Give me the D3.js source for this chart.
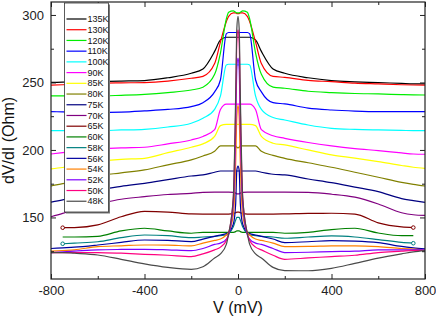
<!DOCTYPE html>
<html>
<head>
<meta charset="utf-8">
<script src="https://cdn.jsdelivr.net/npm/d3@7"></script>
<style>
    body { margin: 0; background: #fff; }
    svg { display: block; font-family: Arial, "Liberation Sans", sans-serif; }
</style>
</head>
<body>
<div id="chart"></div>
<script>
// bias voltage (mV), shared by every curve
var volts = [-800, -750, -700, -600, -500, -400, -300, -200, -150, -100, -75, -50, -40, -20, -10, -5, 0,
    5, 10, 20, 40, 50, 75, 100, 150, 200, 300, 400, 500, 600, 700, 750, 800];

// dV/dI (Ohm) for each temperature
var r135 = [250, 250.2, 250.4, 250.6, 251, 251.4, 253.5, 256.8, 260, 273, 281.5, 283.5, 283.5, 283.5, 283.5, 283.5, 283.5,
    283.5, 283.5, 283.5, 283.5, 283.5, 281.5, 273, 260, 256.8, 253.5, 251.4, 250.5, 249.9, 249.3, 249, 248.9];
var r130 = [248, 248.3, 248.7, 249.4, 249.7, 249.9, 251, 253.1, 254.5, 264, 280, 295, 299, 301.5, 301.5, 301, 301,
    301, 301.5, 301.5, 299, 295, 280, 264, 254.5, 253.8, 251.5, 250.6, 249.5, 248.9, 248.3, 248.1, 248];
var r120 = [240, 240, 240, 240, 240.5, 241.2, 242.5, 244.4, 246.5, 256, 272, 297, 302, 303, 302, 301.5, 301.5,
    301.5, 302, 303, 302, 297, 272, 256, 246.5, 245.7, 243.5, 242.5, 241.8, 241.5, 241, 240.8, 240.7];
var r110 = [228.4, 228.2, 228, 227.7, 228, 228.9, 230, 232.1, 235, 243, 252, 286, 287, 287, 287, 287, 287,
    287, 287, 287, 287, 286, 252, 243, 235, 234.1, 231, 229.6, 228.8, 228.4, 228.4, 228.4, 228.4];
var r100 = [214.3, 214.3, 214.3, 214.3, 214.8, 215.3, 217, 219.8, 223.5, 230, 240, 263, 263.5, 263.5, 263.5, 263, 263,
    263, 263.5, 263.5, 263.5, 263, 240, 230, 224, 222.2, 218.5, 216, 215.2, 214.8, 214.5, 214.3, 214.3];
var r90 = [197, 198, 199, 200.5, 201.5, 202, 204.5, 207.4, 210, 215, 230, 234, 234, 234, 234, 234, 234,
    234, 234, 234, 234, 234, 230, 215, 210.5, 208.6, 205.5, 203, 201, 199.5, 197.8, 197, 196.8];
var r85 = [186, 187, 188.5, 191.4, 193, 193.8, 198, 202, 204.5, 210, 218, 219, 219, 219, 219, 219, 219,
    219, 219, 219, 219, 219, 218, 210, 205, 203.7, 200, 196.3, 194, 191.4, 188.5, 187.2, 186.4];
var r80 = [173.3, 175, 176.5, 180.7, 183, 185.2, 189, 192.6, 195.5, 199, 203, 203, 203, 203, 203, 202, 201.5,
    202, 203, 203, 203, 203, 203, 199, 196, 193.8, 190.5, 187.2, 183.5, 179.8, 176, 174.5, 173.3];
var r75 = [161.3, 163, 165, 170, 173, 175.3, 178, 180.7, 181.5, 183.5, 184.4, 184.4, 184.4, 184.4, 184.4, 184.4, 184.4,
    184.4, 184.4, 184.4, 184.4, 184.4, 184.4, 183.5, 182, 181.5, 178.5, 175.8, 172.5, 169.1, 164, 162.5, 161.1];
var r70 = [150.5, 153, 156, 160, 163.5, 165.4, 167, 167.9, 168.5, 168.7, 168.7, 168.7, 168.7, 168.5, 168, 167.5, 167.5,
    167.5, 168, 168.5, 168.7, 168.7, 168.7, 168.7, 168.7, 168.7, 168.5, 167.2, 165, 160, 153.5, 152, 151.5];
var r65 = [null, 142.4, 142.5, 144.5, 150.5, 154.5, 154, 152.6, 152.5, 152.5, 152.5, 152.5, 152.5, 153, 153.5, 154, 154,
    154, 153.5, 153, 152.5, 152.5, 152.5, 152.5, 152.5, 152.6, 153, 153.1, 152.5, 146, 143, 142.5, null];
var r60 = [null, 135.5, 135.5, 136, 140, 142, 140, 138.3, 139, 139, 139, 139, 139, 139, 139.5, 140, 140,
    140, 139.5, 139, 139, 139, 139, 139, 139, 138.3, 139, 141, 142, 138.5, 136.5, 136.5, null];
var r58 = [null, 130.5, 131, 132, 135, 137, 136.5, 135, 135.5, 136, 136.5, 137, 138, 143, 148, 150, 150,
    150, 148, 143, 138, 137, 136.5, 136, 135.5, 134.6, 135.5, 136.3, 135.5, 133.6, 131.5, 130.9, null];
var r56 = [127, 127.5, 128, 129.6, 131.5, 133.3, 133, 132.1, 134, 136, 137, 138, 139, 145, 160, 185, 188,
    185, 160, 145, 139, 138, 137, 136, 134, 131.4, 132, 132.8, 132.5, 131.4, 128.5, 127.5, 126.7];
var r54 = [125, 125.5, 126, 128.4, 129, 129.6, 129.5, 128.9, 131, 133, 134, 137, 139, 152, 190, 225, 233,
    225, 190, 152, 139, 137, 134, 133, 131, 128.4, 128.5, 128.9, 129, 128.4, 127, 126.5, 126];
var r52 = [124, 124.5, 125, 126, 126.3, 126.4, 126, 125.4, 127, 130, 131, 134, 137, 160, 215, 260, 268,
    260, 215, 160, 137, 134, 131, 130, 127, 124, 124.2, 124.7, 125, 126, 126, 126, 126];
var r50 = [124, 124, 124, 124, 123.5, 122.7, 122, 121, 123, 126, 128, 133, 138, 165, 230, 280, 289,
    280, 230, 165, 138, 133, 128, 126, 122, 119, 120, 121, 122, 124, 125, 125.5, 125.5];
var r48 = [124, 124, 123.5, 122.2, 119, 115.6, 113, 111.6, 113.5, 120, 123, 130, 138, 165, 240, 290, 299,
    290, 240, 165, 138, 130, 123, 120, 113, 110.6, 110.5, 112.3, 116, 119.8, 123, 124.5, 125.4];

var temps = ['135K', '130K', '120K', '110K', '100K', '90K', '85K', '80K', '75K',
    '70K', '65K', '60K', '58K', '56K', '54K', '52K', '50K', '48K'];
var series = [r135, r130, r120, r110, r100, r90, r85, r80, r75, r70, r65, r60, r58, r56, r54, r52, r50, r48];
var colors = ['#000000', '#ff0000', '#00ee00', '#0000ff', '#00ffff', '#ff00ff', '#ffff00', '#808000', '#000080',
    '#800080', '#800000', '#008000', '#008080', '#0000a0', '#ff8000', '#8000ff', '#ff0080', '#4a4a4a'];
// curves that carry a small open marker at their sweep ends
var endMarks = ['65K', '58K'];

var xTicks = [-800, -400, 0, 400, 800];
var xMinor = [-600, -200, 200, 600];
var yTicks = [150, 200, 250, 300];
var yMinor = [125, 175, 225, 275];

var W = 436, H = 320;
var pLeft = 51, pRight = 425, pTop = 2, pBottom = 279;

var svg = d3.select('#chart').append('svg')
    .attr('width', W)
    .attr('height', H);

var x = d3.scaleLinear().domain([-800, 800]).range([pLeft, pRight]);
var y = d3.scaleLinear().domain([104.4, 309.6]).range([pBottom, pTop]);

// curves
var line = d3.line()
    .defined(function (d) { return d[1] != null; })
    .x(function (d) { return x(d[0]); })
    .y(function (d) { return y(d[1]); })
    .curve(d3.curveMonotoneX);

function points(s) {
    return volts.map(function (v, i) { return [v, s[i]]; });
}

svg.append('g')
    .selectAll('path')
    .data(series)
    .enter()
    .append('path')
    .attr('d', function (s) { return line(points(s)); })
    .attr('fill', 'none')
    .attr('stroke', function (d, i) { return colors[i]; })
    .attr('stroke-width', 1.2)
    .attr('stroke-linejoin', 'round');

// end markers
endMarks.forEach(function (t) {
    var k = temps.indexOf(t);
    var pts = points(series[k]).filter(function (p) { return p[1] != null; });
    svg.append('g')
        .selectAll('circle')
        .data([pts[0], pts[pts.length - 1]])
        .enter()
        .append('circle')
        .attr('cx', function (p) { return x(p[0]); })
        .attr('cy', function (p) { return y(p[1]); })
        .attr('r', 1.8)
        .attr('fill', '#fff')
        .attr('stroke', colors[k])
        .attr('stroke-width', 1);
});

// axes, ticks pointing inward on all four sides
function styleAxis(g) {
    g.select('.domain').remove();
    g.selectAll('line').attr('stroke', '#222').attr('stroke-width', 1);
    g.selectAll('text').attr('fill', '#222').style('font-size', '13px')
        .style('font-family', 'Arial, "Liberation Sans", sans-serif');
}

var plain = function (d) { return String(d); };

svg.append('g')
    .attr('transform', 'translate(0,' + pBottom + ')')
    .call(d3.axisBottom(x).tickValues(xTicks).tickSize(-5).tickPadding(7).tickFormat(plain))
    .call(styleAxis);
svg.append('g')
    .attr('transform', 'translate(0,' + pBottom + ')')
    .call(d3.axisBottom(x).tickValues(xMinor).tickSize(-3).tickFormat(''))
    .call(styleAxis);
svg.append('g')
    .attr('transform', 'translate(0,' + pTop + ')')
    .call(d3.axisTop(x).tickValues(xTicks).tickSize(-5).tickFormat(''))
    .call(styleAxis);
svg.append('g')
    .attr('transform', 'translate(0,' + pTop + ')')
    .call(d3.axisTop(x).tickValues(xMinor).tickSize(-3).tickFormat(''))
    .call(styleAxis);

svg.append('g')
    .attr('transform', 'translate(' + pLeft + ',0)')
    .call(d3.axisLeft(y).tickValues(yTicks).tickSize(-5).tickPadding(7).tickFormat(plain))
    .call(styleAxis);
svg.append('g')
    .attr('transform', 'translate(' + pLeft + ',0)')
    .call(d3.axisLeft(y).tickValues(yMinor).tickSize(-3).tickFormat(''))
    .call(styleAxis);
svg.append('g')
    .attr('transform', 'translate(' + pRight + ',0)')
    .call(d3.axisRight(y).tickValues(yTicks).tickSize(-5).tickFormat(''))
    .call(styleAxis);
svg.append('g')
    .attr('transform', 'translate(' + pRight + ',0)')
    .call(d3.axisRight(y).tickValues(yMinor).tickSize(-3).tickFormat(''))
    .call(styleAxis);

// frame
svg.append('rect')
    .attr('x', pLeft)
    .attr('y', pTop)
    .attr('width', pRight - pLeft)
    .attr('height', pBottom - pTop)
    .attr('fill', 'none')
    .attr('stroke', '#222')
    .attr('stroke-width', 1.2);

// axis titles
svg.append('text')
    .attr('x', (pLeft + pRight) / 2)
    .attr('y', 313)
    .attr('text-anchor', 'middle')
    .style('font-size', '16px')
    .attr('fill', '#111')
    .text('V (mV)');

svg.append('text')
    .attr('transform', 'translate(14,' + (pTop + pBottom) / 2 + ') rotate(-90)')
    .attr('text-anchor', 'middle')
    .style('font-size', '16px')
    .attr('fill', '#111')
    .text('dV/dI (Ohm)');

// legend
var legend = svg.append('g');
var lx = 64.5, ly = 3, lw = 44, lh = 209, step = 10.72;

legend.append('rect')
    .attr('x', lx + 1.5).attr('y', ly + 1.5)
    .attr('width', lw).attr('height', lh)
    .attr('fill', '#777');
legend.append('rect')
    .attr('x', lx).attr('y', ly)
    .attr('width', lw).attr('height', lh)
    .attr('fill', '#fff')
    .attr('stroke', '#333')
    .attr('stroke-width', 0.8);

var items = legend.selectAll('g.item')
    .data(temps)
    .enter()
    .append('g')
    .attr('transform', function (d, i) { return 'translate(0,' + (19 + i * step) + ')'; });

items.append('line')
    .attr('x1', 66.5).attr('x2', 86.5)
    .attr('stroke', function (d, i) { return colors[i]; })
    .attr('stroke-width', 1.2);

items.append('text')
    .attr('x', 87.5)
    .attr('dy', '0.35em')
    .style('font-size', '9px')
    .attr('fill', '#111')
    .text(function (d) { return d; });
</script>
</body>
</html>
